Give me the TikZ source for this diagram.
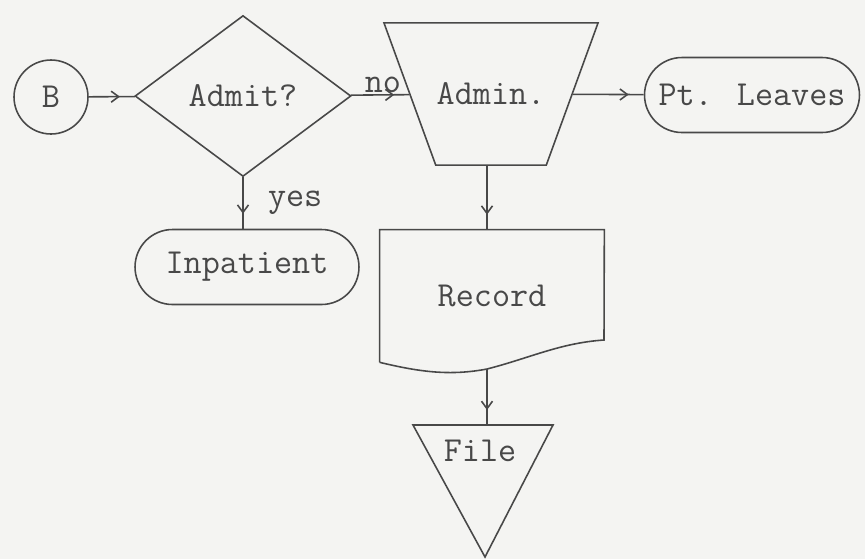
\documentclass[tikz,border=0pt]{standalone}
\usepackage{fontspec}
\usetikzlibrary{arrows.meta,shapes.geometric,shapes.misc,decorations.markings}
\definecolor{inkgray}{RGB}{72,72,72}
\definecolor{paper}{RGB}{244,244,242}
\tikzset{
    base/.style={draw=inkgray, line width=0.9pt, text=inkgray, inner sep=0pt,
                 font=\fontsize{20}{24}\selectfont\ttfamily},
    term/.style={base, rounded rectangle, minimum width=#1, minimum height=1.5cm},
    arr/.style={draw=inkgray, line width=0.9pt,
                decoration={markings, mark=at position -0.3cm with
                  {\arrow{Straight Barb[length=1.5mm,width=2.2mm]}}},
                postaction=decorate},
    lbl/.style={text=inkgray, inner sep=1pt, font=\fontsize{20}{24}\selectfont\ttfamily},
}
\begin{document}
\begin{tikzpicture}[x=0.02cm, y=-0.02cm]
    \useasboundingbox (0,0) rectangle (865,559);
    \fill[paper] (0,0) rectangle (865,559);

    % top row
    \node[base, circle, minimum size=1.48cm] (b) at (51,97) {B};
    \node[base, diamond, minimum width=4.32cm, minimum height=3.22cm] (admit) at (243,96) {Admit?};
    \node[base, trapezium, trapezium angle=70, shape border rotate=180,
          inner xsep=0.02cm, inner ysep=1.2cm] (admin) at (491,94) {Admin.};
    \node[term=4.3cm] (leaves) at (752,95) {Pt. Leaves};

    % second row
    \node[term=4.48cm] (inpat) at (247,267) {Inpatient};
    \node[lbl, minimum width=4.48cm, minimum height=2.64cm] (rec) at (492,296) {Record};
    \coordinate (recb) at (487,369);
    \draw[draw=inkgray, line width=0.9pt] (rec.south west) -- (rec.north west) -- (rec.north east)
        -- (604,340) .. controls (560,343) and (530,358) .. (recb)
        .. controls (450,376) and (420,372) .. (rec.south west);

    % file
    \coordinate (filetop) at (487,425);
    \draw[draw=inkgray, line width=0.9pt] (413,425) -- (553,425) -- (485,557) -- cycle;
    \node[lbl] (file) at (480,451) {File};

    \draw[arr] (b) -- (admit);
    \draw[arr] (admit) -- node[lbl, above, pos=0.55] {no} (admin);
    \draw[arr] (admin) -- (leaves);
    \draw[arr] (admit.south) -- node[lbl, right=0.45cm] {yes} (admit.south |- inpat.north);
    \draw[arr] (recb |- admin.south) -- (recb |- rec.north);
    \draw[arr] (recb) -- (filetop);
\end{tikzpicture}
\end{document}
